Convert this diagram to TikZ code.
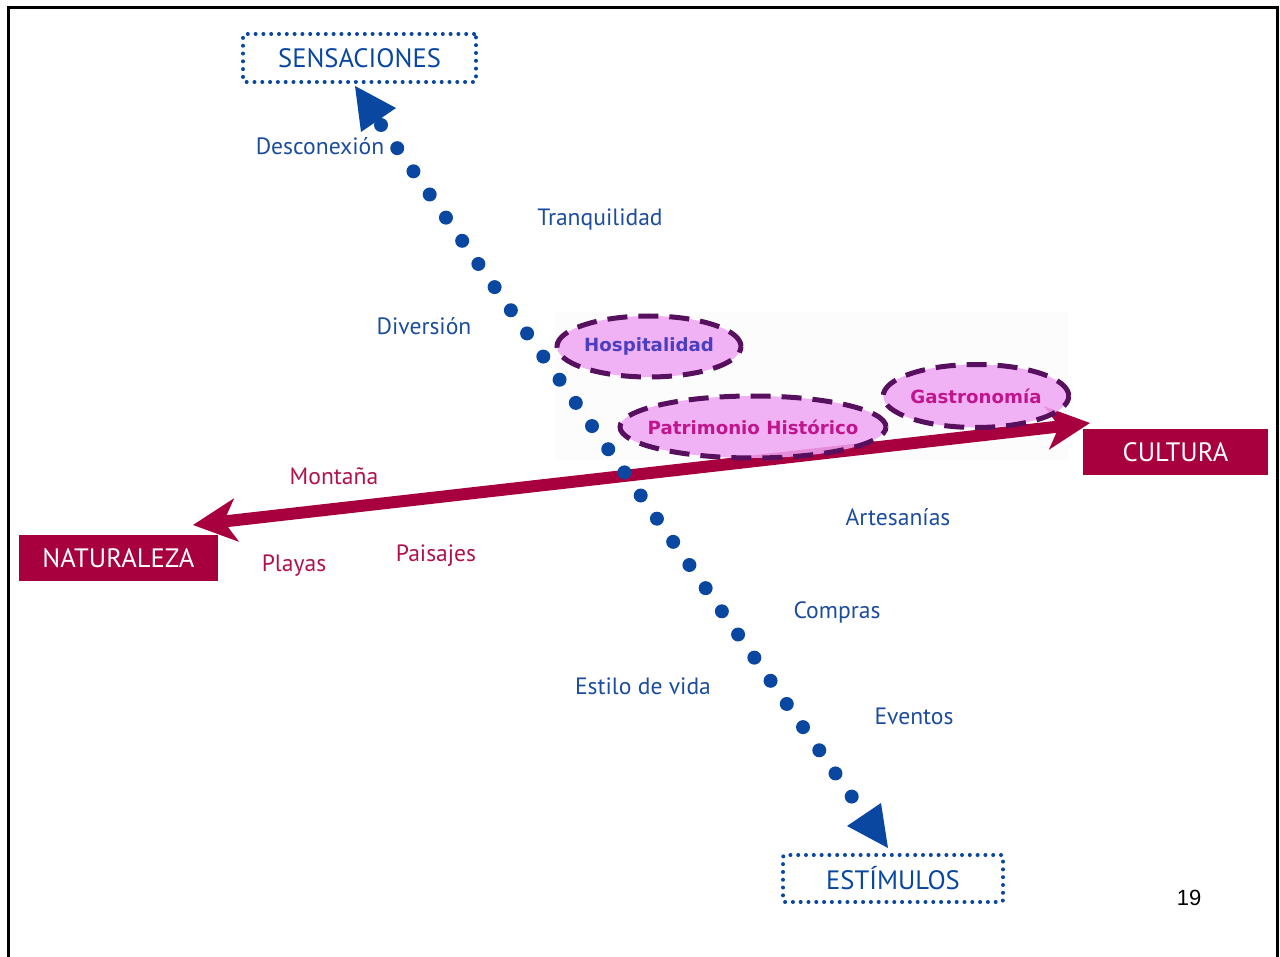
\documentclass[tikz,border=0pt]{standalone}
\usepackage{fontspec}
\setmainfont{PT Sans}
\newfontfamily\ellfont{DejaVu Sans}
\newfontfamily\numfont{Liberation Sans}
\usetikzlibrary{arrows.meta,shapes.geometric}
\definecolor{axblue}{HTML}{0A47A0}
\definecolor{lblblue}{HTML}{1C4C9E}
\definecolor{crim}{HTML}{A8003F}
\definecolor{crimtxt}{HTML}{B0124E}
\definecolor{ellfill}{HTML}{F0A6F4}
\definecolor{elldraw}{HTML}{56105E}
\definecolor{hospi}{HTML}{4B3FC0}
\definecolor{magtxt}{HTML}{C0158C}
\tikzset{
  bluelbl/.style={text=lblblue, font=\fontsize{23.6}{28}\selectfont, inner sep=0pt},
  crimlbl/.style={text=crimtxt, font=\fontsize{23.6}{28}\selectfont, inner sep=0pt},
  dotbox/.style={draw=axblue, line width=4pt, line cap=round, dash pattern=on 0pt off 7.8pt, rounded corners=2pt, text=axblue, font=\fontsize{26.6}{31}\selectfont},
  redbox/.style={fill=crim, text=white, inner sep=0pt, font=\fontsize{26.6}{31}\selectfont},
  ell/.style={ellipse, draw=elldraw, line width=5pt, dash pattern=on 20pt off 11pt, fill=ellfill, fill opacity=0.85, text opacity=1, inner sep=0pt, font=\ellfont\bfseries\fontsize{18.2}{21}\selectfont},
}
\begin{document}
\begin{tikzpicture}[x=1pt,y=-1pt]
\useasboundingbox (0,0) rectangle (1280,957);
% frame
\draw[line width=3pt, black] (8,957) -- (8,8) -- (1277,8) -- (1277,957);
% faint image background
\fill[gray!2] (555,312) rectangle (1068,460);
% boxes
\node[dotbox, minimum width=233pt, minimum height=48pt] (sens) at (359.5,58) {SENSACIONES};
\node[dotbox, minimum width=220pt, minimum height=47pt] (estim) at (893,878.5) {ESTÍMULOS};
\node[redbox, minimum width=199pt, minimum height=46pt] (nat) at (118.5,558) {NATURALEZA};
\node[redbox, minimum width=185pt, minimum height=46pt] (cult) at (1175.5,452) {CULTURA};
% crimson axis
\coordinate (natTip) at (193,525);
\coordinate (cultTip) at (1090,423);
\draw[crim, line width=12pt, {Stealth[length=44pt,width=44pt,inset=13pt,line width=0pt]}-{Stealth[length=44pt,width=44pt,inset=13pt,line width=0pt]}] (natTip) -- (cultTip);
% ellipses
\node[ell, minimum width=184pt, minimum height=61pt, text=hospi] (hosp) at (649,346.5) {Hospitalidad};
\node[ell, inner xsep=-12pt, minimum width=266pt, minimum height=62pt, text=magtxt] (patr) at (753,427) {Patrimonio Histórico};
\node[ell, minimum width=184pt, minimum height=63pt, text=magtxt] (gast) at (976,396) {Gastronomía};
% blue dotted axis
\coordinate (sDot) at (381,125);
\coordinate (eDot) at (852,797);
\draw[axblue, line width=14pt, line cap=round, dash pattern=on 0pt off 28.28pt] (sDot) -- (eDot);
\fill[axblue] (355,86) -- (396,108) -- (361,132) -- cycle;
\fill[axblue] (888,848) -- (847,826) -- (881,803) -- cycle;
% labels
\node[bluelbl] (l1) at (320,146) {Desconexión};
\node[bluelbl] (l2) at (600,220) {Tranquilidad};
\node[bluelbl] (l3) at (424,326) {Diversión};
\node[bluelbl] (l4) at (898,517) {Artesanías};
\node[bluelbl] (l5) at (837,612) {Compras};
\node[bluelbl] (l6) at (643,686) {Estilo de vida};
\node[bluelbl] (l7) at (914,716) {Eventos};
\node[crimlbl] (m1) at (334,476) {Montaña};
\node[crimlbl] (m2) at (294,566) {Playas};
\node[crimlbl] (m3) at (436,556) {Paisajes};
\node[inner sep=0pt, font=\numfont\fontsize{22}{26}\selectfont] (pg) at (1189,898) {19};
\end{tikzpicture}
\end{document}
